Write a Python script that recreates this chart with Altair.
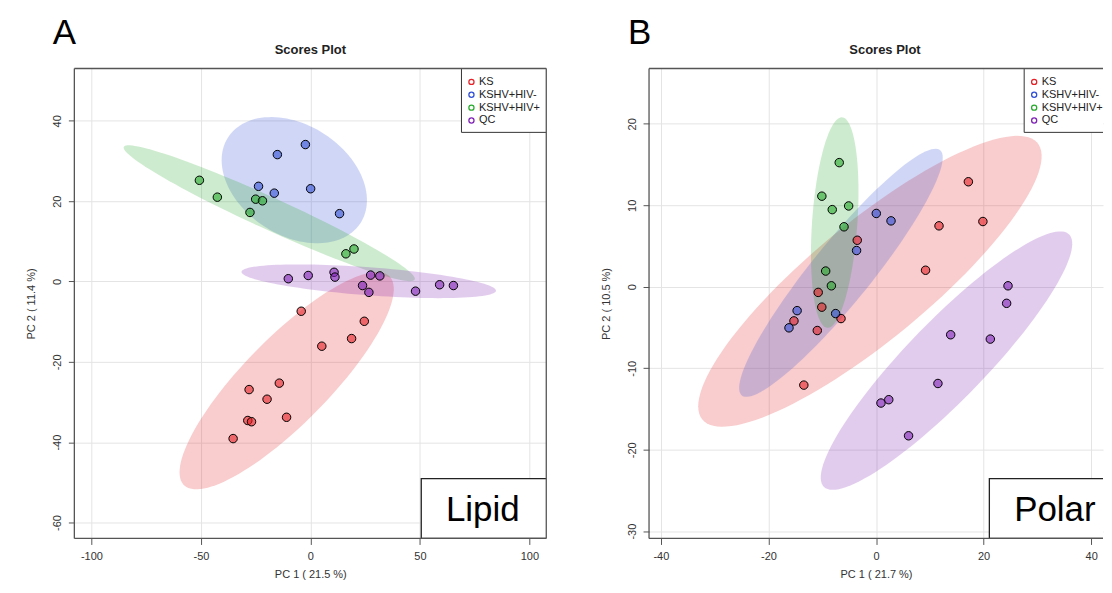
import math
import numpy as np
import pandas as pd
import altair as alt

FONT = "Liberation Sans"
GROUPS = ["KS", "KSHV+HIV-", "KSHV+HIV+", "QC"]
COLORS = ["#e62127", "#3250d6", "#28aa2d", "#8023b7"]

# ---------------- Panel A : Lipid ----------------
A_KS_X = [-4.2, 24.6, 18.8, 5.2, -14.2, -28.0, -19.8, -10.9, -28.6, -26.9, -35.3]
A_KS_Y = [-7.4, -9.9, -14.2, -16.1, -25.3, -26.9, -29.3, -33.8, -34.6, -34.9, -39.1]
A_NEG_X = [-15.1, -2.3, -23.7, -16.5, 0.1, 13.3]
A_NEG_Y = [31.6, 34.1, 23.7, 22.0, 23.1, 16.9]
A_POS_X = [-50.7, -42.5, -25.0, -21.9, -27.6, 16.2, 19.9]
A_POS_Y = [25.2, 21.0, 20.5, 20.1, 17.2, 6.9, 8.1]
A_QC_X = [-10.1, -1.0, 10.8, 11.2, 27.5, 31.7, 23.8, 26.7, 48.0, 59.0, 65.3]
A_QC_Y = [0.7, 1.5, 2.3, 1.1, 1.6, 1.4, -1.0, -2.7, -2.4, -0.8, -1.0]
A_XTICKS = [-100, -50, 0, 50, 100]
A_YTICKS = [-60, -40, -20, 0, 20, 40]

# ---------------- Panel B : Polar ----------------
B_KS_X = [17.17, 11.71, 19.87, -3.49, 9.21, -10.75, -10.08, -15.26, -6.51, -10.92, -13.42]
B_KS_Y = [12.89, 7.48, 8.01, 5.71, 2.03, -0.69, -2.50, -4.19, -3.90, -5.37, -12.07]
B_NEG_X = [0.05, 2.79, -3.62, -14.67, -16.18, -7.51]
B_NEG_Y = [9.0, 8.09, 4.45, -2.93, -5.04, -3.29]
B_POS_X = [-6.84, -10.07, -8.14, -5.09, -5.95, -9.36, -8.30]
B_POS_Y = [15.24, 11.12, 9.47, 9.92, 7.36, 1.93, 0.12]
B_QC_X = [24.54, 24.28, 13.88, 21.25, 11.51, 0.92, 2.37, 6.05]
B_QC_Y = [0.12, -2.03, -5.89, -6.42, -11.87, -14.27, -13.86, -18.29]
B_XTICKS = [-40, -20, 0, 20, 40]
B_YTICKS = [-30, -20, -10, 0, 10, 20]


def points_df(series):
    rows = []
    for g, (xs, ys) in zip(GROUPS, series):
        for x, y in zip(xs, ys):
            rows.append({"x": x, "y": y, "group": g})
    return pd.DataFrame(rows)


def ellipse_df(xs, ys, group, n=120):
    # 95% confidence ellipse from the sample covariance of the group's points
    pts = np.column_stack([xs, ys])
    c = pts.mean(axis=0)
    cov = np.cov(pts.T)
    vals, vecs = np.linalg.eigh(cov)
    t = math.sqrt(-2.0 * math.log(0.05))
    ang = np.linspace(0, 2 * np.pi, n)
    circ = np.stack([np.cos(ang), np.sin(ang)])
    e = (vecs @ np.diag(np.sqrt(np.maximum(vals, 0))) @ circ) * t
    return pd.DataFrame({"x": c[0] + e[0], "y": c[1] + e[1], "i": np.arange(n), "group": group})


def one():
    return alt.Data(values=[{"k": 0}])


def panel(letter, letter_x, tag, series, xdom, ydom, xticks, yticks, xtitle, ytitle,
          w, h, right_frame, box_x0, text_x, leg_x0):
    xscale = alt.Scale(domain=xdom, nice=False, zero=False)
    yscale = alt.Scale(domain=ydom, nice=False, zero=False)
    common = dict(grid=True, gridColor="#e4e4e4", gridWidth=1, domain=False,
                  ticks=True, tickSize=6, tickColor="#555555", tickWidth=1,
                  labelFont=FONT, labelFontSize=11, labelColor="#333333",
                  labelFlush=False, labelExpr="'' + datum.value",
                  titleFont=FONT, titleFontSize=11, titleFontWeight="normal",
                  titleColor="#333333")
    xaxis = alt.Axis(values=xticks, title=xtitle, labelPadding=6, titlePadding=7, **common)
    yaxis = alt.Axis(values=yticks, title=ytitle, labelAngle=270, labelAlign="center",
                     labelBaseline="bottom", labelPadding=6, titlePadding=15, **common)
    X = alt.X("x:Q", scale=xscale, axis=xaxis)
    Y = alt.Y("y:Q", scale=yscale, axis=yaxis)

    pts = points_df(series)
    layers = []
    for g, col, (xs, ys) in zip(GROUPS, COLORS, series):
        ell = ellipse_df(xs, ys, g)
        layers.append(
            alt.Chart(ell).mark_line(fill=col, fillOpacity=0.23, strokeOpacity=0, strokeWidth=0)
            .encode(x=X, y=Y, order="i:Q")
        )
    col_scale = alt.Scale(domain=GROUPS, range=COLORS)
    layers.append(
        alt.Chart(pts).mark_point(filled=True, shape="circle", size=72, stroke="black",
                                  strokeWidth=1, opacity=1, fillOpacity=0.6)
        .encode(x=X, y=Y, fill=alt.Fill("group:N", scale=col_scale, legend=None))
    )
    # legend box (top-right, drawn inside the plot area)
    layers.append(
        alt.Chart(one()).mark_rect(fill="white", stroke="#333333", strokeWidth=1, clip=True)
        .encode(x=alt.value(leg_x0), x2=alt.value(w + 3), y=alt.value(0), y2=alt.value(64))
    )
    for k, (g, col) in enumerate(zip(GROUPS, COLORS)):
        ry = 13.4 + 12.9 * k
        layers.append(
            alt.Chart(one()).mark_point(shape="circle", filled=False, size=26, strokeWidth=1.3,
                                        color=col, opacity=1, clip=True)
            .encode(x=alt.value(leg_x0 + 10), y=alt.value(ry))
        )
        layers.append(
            alt.Chart(one()).mark_text(text=g, font=FONT, fontSize=11, color="#222222",
                                       align="left", baseline="middle", clip=True)
            .encode(x=alt.value(leg_x0 + 17.5), y=alt.value(ry))
        )
    # dataset label box
    layers.append(
        alt.Chart(one()).mark_rect(fill="white", stroke="#222222", strokeWidth=1.3, clip=True)
        .encode(x=alt.value(box_x0), x2=alt.value(w + 3), y=alt.value(h - 60), y2=alt.value(h))
    )
    layers.append(
        alt.Chart(one()).mark_text(text=tag, font=FONT, fontSize=35, color="black",
                                   align="center", baseline="alphabetic")
        .encode(x=alt.value(text_x), y=alt.value(h - 17.6))
    )
    # frame
    fr = dict(color="#555555", strokeWidth=1.3)
    layers.append(alt.Chart(one()).mark_rule(**fr).encode(x=alt.value(0), x2=alt.value(w), y=alt.value(0)))
    layers.append(alt.Chart(one()).mark_rule(**fr).encode(x=alt.value(0), x2=alt.value(w), y=alt.value(h)))
    layers.append(alt.Chart(one()).mark_rule(**fr).encode(x=alt.value(0), y=alt.value(0), y2=alt.value(h)))
    if right_frame:
        layers.append(alt.Chart(one()).mark_rule(**fr).encode(x=alt.value(w), y=alt.value(0), y2=alt.value(h)))
    # invisible top guide fixing the top edge of the figure
    layers.append(alt.Chart(one()).mark_rule(opacity=0).encode(x=alt.value(0), x2=alt.value(10), y=alt.value(-59.3)))
    # titles
    layers.append(
        alt.Chart(one()).mark_text(text="Scores Plot", font=FONT, fontSize=13, fontWeight="bold",
                                   color="#222222", align="center", baseline="alphabetic")
        .encode(x=alt.value(236.5), y=alt.value(-14.5))
    )
    layers.append(
        alt.Chart(one()).mark_text(text=letter, font=FONT, fontSize=35, color="black",
                                   align="left", baseline="alphabetic")
        .encode(x=alt.value(letter_x), y=alt.value(-24.8))
    )
    return alt.layer(*layers).properties(width=w, height=h)


A = panel("A", -21.6, "Lipid",
          [(A_KS_X, A_KS_Y), (A_NEG_X, A_NEG_Y), (A_POS_X, A_POS_Y), (A_QC_X, A_QC_Y)],
          [-107.8, 107.7], [-63.96, 53.03], A_XTICKS, A_YTICKS,
          "PC 1 ( 21.5 %)", "PC 2 ( 11.4 %)", 473, 471, True, 347.7, 409.4, 388)
B = panel("B", -21.2, "Polar",
          [(B_KS_X, B_KS_Y), (B_NEG_X, B_NEG_Y), (B_POS_X, B_POS_Y), (B_QC_X, B_QC_Y)],
          [-42.2, 42.2], [-30.89, 26.79], B_XTICKS, B_YTICKS,
          "PC 1 ( 21.7 %)", "PC 2 ( 10.5 %)", 455, 471, False, 341.1, 406.8, 376)

chart = (
    alt.hconcat(A, B, spacing=52)
    .properties(padding={"left": 16.5, "top": 0, "right": 0, "bottom": 0}, background="white")
    .configure_view(stroke=None)
)
chart.save("out.html", embed_options={"renderer": "svg", "actions": False})
